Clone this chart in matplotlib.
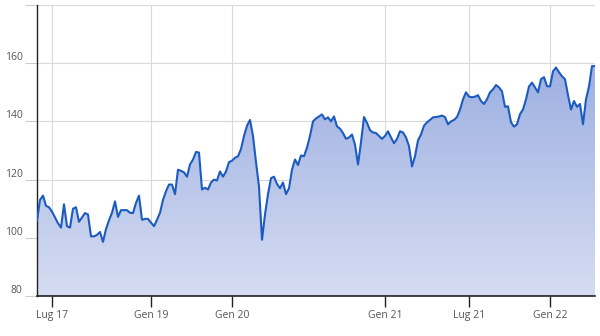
import matplotlib
matplotlib.use("Agg")
import matplotlib.pyplot as plt
import numpy as np
from matplotlib.colors import LinearSegmentedColormap

values = [
    106, 113, 114.5, 111, 110.5, 109, 107, 105, 103.5, 111.5,
    104, 103.5, 110, 110.5, 105.5, 107, 108.5, 108, 100.5, 100.5,
    101, 102, 98.6, 103, 106, 108.6, 112.5, 107.2, 109.5, 109.5,
    109.5, 108.6, 108.5, 112, 114.5, 106.2, 106.5, 106.5, 105.2, 104,
    106.2, 108.6, 113, 116, 118.3, 118.3, 115, 123.4, 123, 122.5,
    121, 125.2, 126.9, 129.5, 129.3, 116.6, 117.2, 116.6, 119, 120,
    119.7, 122.8, 121, 122.8, 126, 126.5, 127.5, 128, 130.5, 135,
    138.5, 140.5, 135, 126, 117.6, 99.3, 108, 115, 120.5, 121,
    118.5, 117, 119, 115, 117, 123.4, 126.9, 125, 128.3, 128,
    131, 135, 140, 141, 141.7, 142.4, 140.7, 141.4, 140, 141.7,
    138.3, 137.5, 136, 134, 134.5, 135.5, 132, 125.2, 132.8, 141.5,
    139.5, 137, 136.2, 136, 135, 134, 135, 136.6, 134.5, 132.5,
    134, 136.6, 136.2, 134.5, 131.5, 124.5, 128, 133.5, 135.5, 138.5,
    139.7, 140.5, 141.4, 141.5, 141.7, 142, 141.5, 139, 140, 140.5,
    141.5, 144, 147.6, 150, 148.5, 148.3, 148.5, 149, 147, 146,
    147.6, 150, 151, 152.5, 151.7, 150.3, 145, 145.2, 139.7, 138.2,
    139, 142.5, 144.1, 147.6, 152, 153.3, 151.7, 150, 154.5, 155.2,
    152.1, 152, 157.2, 158.5, 156.9, 155.5, 154.5, 149, 144.1, 147,
    145, 146, 139, 147.6, 152, 159, 159,
]
xtick_pos = [5, 38, 65, 116, 144, 171]
xtick_labels = ["Lug 17", "Gen 19", "Gen 20", "Gen 21", "Lug 21", "Gen 22"]
ytick_vals = [80, 100, 120, 140, 160, 180]
ytick_labels = ["80", "100", "120", "140", "160", ""]

plt.rcParams['font.family'] = ['Open Sans', 'DejaVu Sans']

fig = plt.figure(figsize=(6, 3.36), dpi=100)
ax = fig.add_axes([37/600, 40/336, 558/600, 291/336])

x = np.arange(len(values))
y = np.array(values, dtype=float)
ymin, ymax = 80, 180

# gradient fill
cmap = LinearSegmentedColormap.from_list(
    "g", [(214/255, 221/255, 242/255), (143/255, 164/255, 222/255)])
grad = np.linspace(0, 1, 256).reshape(-1, 1)
poly = ax.fill_between(x, y, ymin, color="none", lw=0)
im = ax.imshow(grad, cmap=cmap, aspect="auto", origin="lower",
               extent=[x[0], x[-1], ymin, ymax], zorder=1)
path = poly.get_paths()[0]
im.set_clip_path(path, transform=ax.transData)

ax.plot(x, y, color="#1c5cbf", lw=1.5, zorder=3, solid_joinstyle="round")

ax.set_xlim(x[0], x[-1])
ax.set_ylim(ymin, ymax)

ax.set_xticks(xtick_pos)
ax.set_xticklabels(xtick_labels)
ax.set_yticks(ytick_vals)
ax.set_yticklabels(ytick_labels, va="bottom")

ax.grid(True, color="#d9d9d9", lw=0.8, zorder=0)
ax.set_axisbelow(True)

for s in ["top", "right"]:
    ax.spines[s].set_visible(False)
ax.spines["left"].set_color("#222222")
ax.spines["bottom"].set_color("#222222")
ax.spines["left"].set_linewidth(1.0)
ax.spines["bottom"].set_linewidth(1.2)

ax.tick_params(axis="x", length=8, width=1, color="#222222", pad=2,
               labelsize=7.5, labelcolor="#555555")
ax.tick_params(axis="y", length=9, width=0.8, color="#cccccc", pad=1.5,
               labelsize=7.5, labelcolor="#555555")

fig.savefig("out.png", dpi=100)
